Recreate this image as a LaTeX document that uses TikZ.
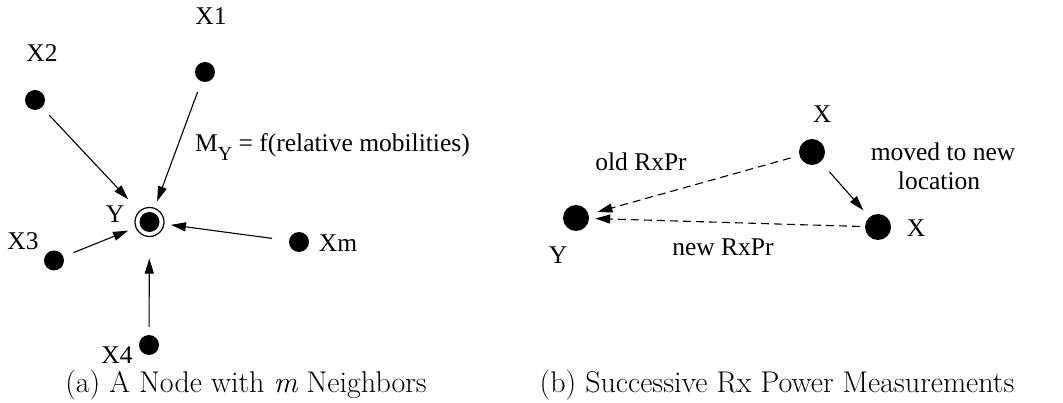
\documentclass[tikz,border=0pt]{standalone}
\usepackage{fontspec}
\usetikzlibrary{arrows.meta}
\newfontfamily\tms{Liberation Serif}
\begin{document}
\begin{tikzpicture}[x=1pt,y=-1pt,
  dot/.style={circle,fill,inner sep=0pt,minimum size=20pt},
  bigdot/.style={circle,fill,inner sep=0pt,minimum size=26pt},
  ring/.style={circle,draw,line width=1.2pt,inner sep=0pt,minimum size=29pt},
  lbl/.style={font=\tms\fontsize{25.5}{29}\selectfont,anchor=base,inner sep=0pt},
  captext/.style={font=\fontsize{30}{36}\selectfont,anchor=base,inner sep=0pt},
  arr/.style={line width=1.1pt,-{Triangle[length=15pt,width=9pt]}},
  darr/.style={arr,dash pattern=on 8pt off 5pt}]
\useasboundingbox (0,0) rectangle (1063,403);
% ---------- (a) ----------
\node[dot] (x1) at (205,72) {};
\node[dot] (x2) at (35,100) {};
\node[ring] (y) at (149.5,222) {};
\node[dot] (yc) at (149.5,222) {};
\node[dot] (x3) at (54,260.5) {};
\node[dot] (xm) at (299,242) {};
\node[dot] (x4) at (149,345) {};
\node[lbl] (lx1) at (211,25) {X1};
\node[lbl] (lx2) at (42,62) {X2};
\node[lbl] (ly) at (115,223) {Y};
\node[lbl] (lx3) at (23,250) {X3};
\node[lbl] (lxm) at (338,252) {Xm};
\node[lbl] (lx4) at (117,363) {X4};
\node[lbl,anchor=base west] (my) at (195,152) {M\raisebox{-9pt}{\fontsize{20}{20}\selectfont Y} = f(relative mobilities)};
\draw[arr,shorten <=10.6pt,shorten >=16pt] (x2) -- (y);
\draw[arr,shorten <=11pt,shorten >=7pt] (x1) -- (y);
\draw[arr,shorten <=11pt,shorten >=8pt] (x3) -- (y);
\draw[arr,shorten <=17pt,shorten >=6.5pt] (xm) -- (y);
\draw[arr,shorten <=8pt,shorten >=21.5pt] (x4) -- (y);
\node[captext] (capa) at (246,392) {(a) A Node with {\itshape m} Neighbors};
% ---------- (b) ----------
\node[bigdot] (xt) at (812,152) {};
\node[bigdot] (yb) at (576,218) {};
\node[bigdot] (xb) at (878,227) {};
\node[lbl] (lxt) at (822,123) {X};
\node[lbl] (lyb) at (558,264) {Y};
\node[lbl] (lxb) at (916,237) {X};
\node[lbl] (old) at (641,171) {old RxPr};
\node[lbl] (new) at (723,256) {new RxPr};
\node[lbl] (mv1) at (943,161) {moved to new};
\node[lbl] (mv2) at (939,190) {location};
\draw[darr,shorten <=9pt,shorten >=9pt] (xt) -- (yb);
\draw[darr,shorten <=5pt,shorten >=6pt] (xb) -- (yb);
\draw[arr,shorten <=13pt,shorten >=9pt] (xt) -- (xb);
\node[captext] (capb) at (777,392) {(b) Successive Rx Power Measurements};
\end{tikzpicture}
\end{document}
